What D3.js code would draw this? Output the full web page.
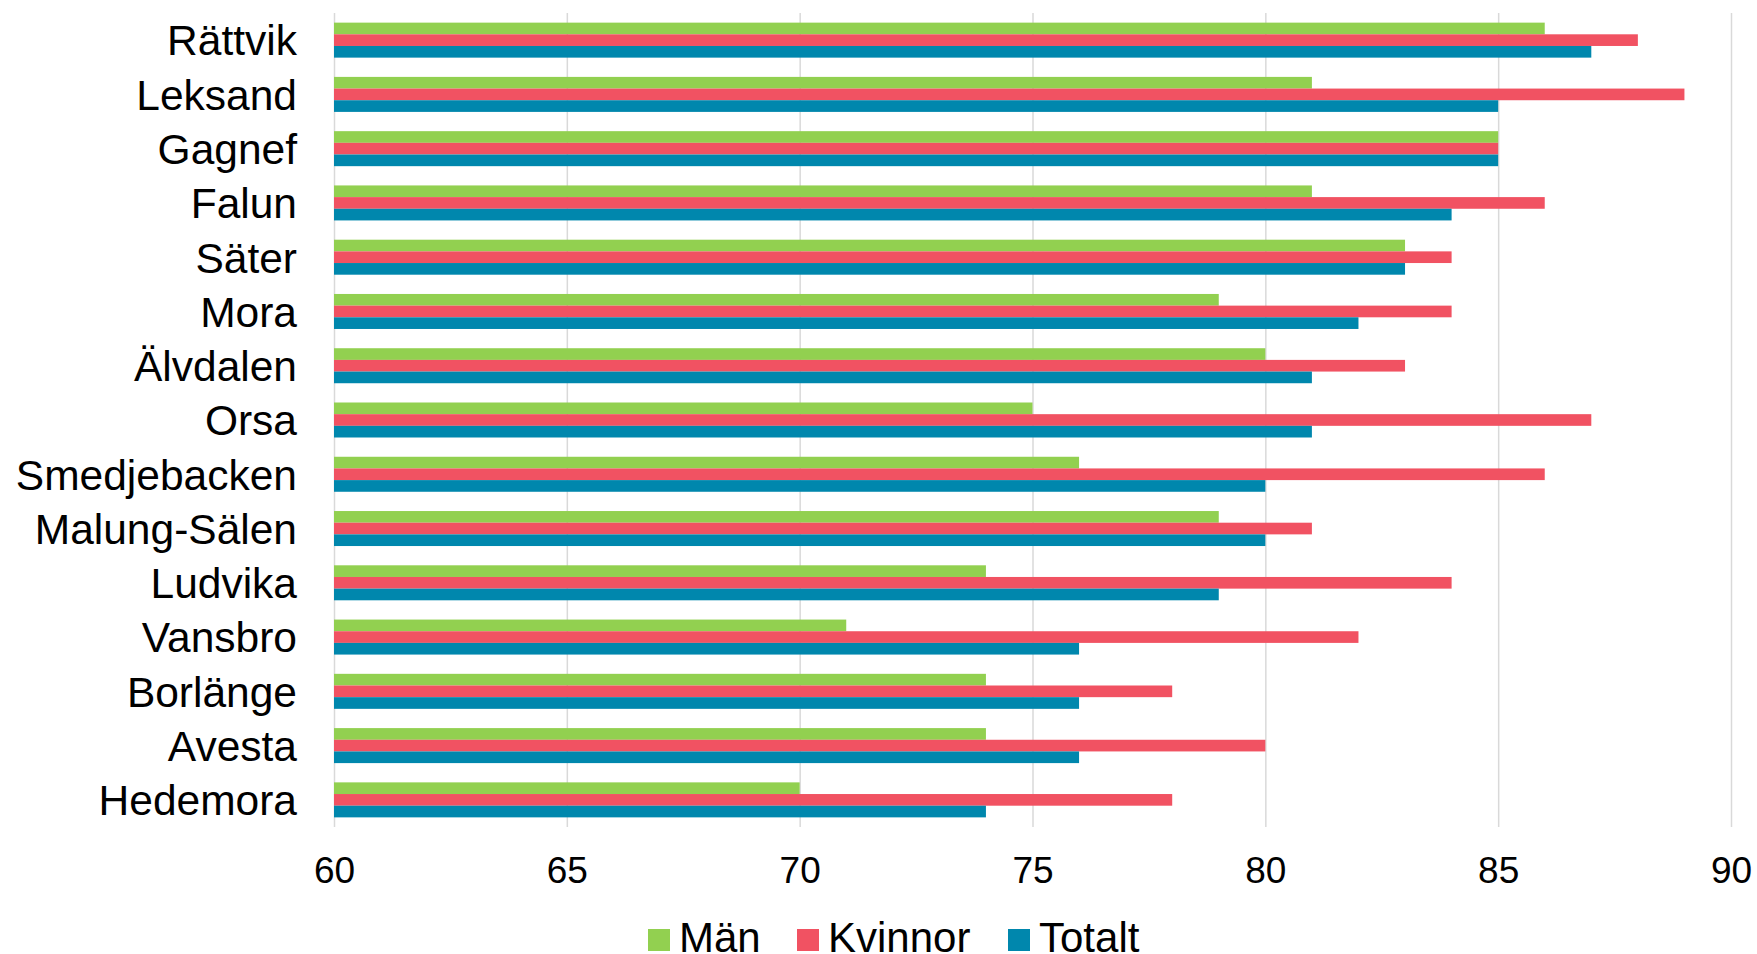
<!DOCTYPE html>
<html>
<head>
<meta charset="utf-8">
<script src="https://cdn.jsdelivr.net/npm/d3@7"></script>
<style>
  html, body { margin: 0; padding: 0; background: #fff; }
  svg { display: block; font-family: "Liberation Sans", Arial, sans-serif; }
</style>
</head>
<body>
<svg id="chart" width="1757" height="954"></svg>
<script>
// Municipalities, top to bottom
const categories = ["Rättvik", "Leksand", "Gagnef", "Falun", "Säter", "Mora", "Älvdalen", "Orsa",
  "Smedjebacken", "Malung-Sälen", "Ludvika", "Vansbro", "Borlänge", "Avesta", "Hedemora"];

const seriesNames = ["Män", "Kvinnor", "Totalt"];
const seriesColors = ["#92D050", "#F15262", "#0087AD"];

const manValues     = [86, 81, 85, 81, 83, 79, 80, 75, 76, 79, 74, 71, 74, 74, 70];
const kvinnorValues = [88, 89, 85, 86, 84, 84, 83, 87, 86, 81, 84, 82, 78, 80, 78];
const totaltValues  = [87, 85, 85, 84, 83, 82, 81, 81, 80, 80, 79, 76, 76, 76, 74];

const xTicks = [60, 65, 70, 75, 80, 85, 90];

const seriesValues = [manValues, kvinnorValues, totaltValues];

const svg = d3.select("#chart");
const plot = { left: 334, right: 1731, top: 13, bottom: 827 };

const x = d3.scaleLinear().domain([60, 90]).range([plot.left, plot.right]);

const y = d3.scaleBand()
  .domain(categories)
  .range([plot.top, plot.bottom])
  .paddingInner(0.355)
  .paddingOuter(0.1775);

const ySub = d3.scaleBand()
  .domain(seriesNames)
  .range([0, y.bandwidth()])
  .padding(0);

// Vertical gridlines and value labels
const xAxis = svg.append("g")
  .attr("transform", `translate(0,${plot.bottom})`)
  .call(d3.axisBottom(x)
    .tickValues(xTicks)
    .tickFormat(d3.format("d"))
    .tickSizeInner(-(plot.bottom - plot.top))
    .tickSizeOuter(0)
    .tickPadding(30));
xAxis.select(".domain").remove();
xAxis.selectAll(".tick line").attr("stroke", "#D9D9D9").attr("stroke-width", 1.5);
xAxis.selectAll(".tick text")
  .attr("fill", "#000")
  .attr("font-size", 37)
  .attr("font-family", "Liberation Sans, Arial, sans-serif");

// Bars
const rows = categories.map((c, i) => ({
  category: c,
  values: seriesNames.map((s, j) => ({ series: s, value: seriesValues[j][i], color: seriesColors[j] }))
}));

const groups = svg.append("g").selectAll("g")
  .data(rows)
  .join("g")
  .attr("transform", d => `translate(0,${y(d.category)})`);

groups.selectAll("rect")
  .data(d => d.values)
  .join("rect")
  .attr("x", x(60))
  .attr("y", d => ySub(d.series))
  .attr("width", d => x(d.value) - x(60))
  .attr("height", ySub.bandwidth())
  .attr("fill", d => d.color);

// Category labels
const yAxis = svg.append("g")
  .attr("transform", `translate(${plot.left},0)`)
  .call(d3.axisLeft(y).tickSize(0).tickPadding(37));
yAxis.select(".domain").remove();
yAxis.selectAll(".tick text")
  .attr("fill", "#000")
  .attr("font-size", 42.5)
  .attr("dy", "0.36em")
  .attr("font-family", "Liberation Sans, Arial, sans-serif");

// Legend along the bottom edge
const legendX = [648, 797, 1008];
const legend = svg.append("g").selectAll("g")
  .data(seriesNames)
  .join("g")
  .attr("transform", (d, i) => `translate(${legendX[i]},0)`);
legend.append("rect")
  .attr("x", 0).attr("y", 929)
  .attr("width", 22).attr("height", 22)
  .attr("fill", (d, i) => seriesColors[i]);
legend.append("text")
  .attr("x", 31).attr("y", 952)
  .attr("font-size", 42)
  .attr("fill", "#000")
  .text(d => d);
</script>
</body>
</html>
